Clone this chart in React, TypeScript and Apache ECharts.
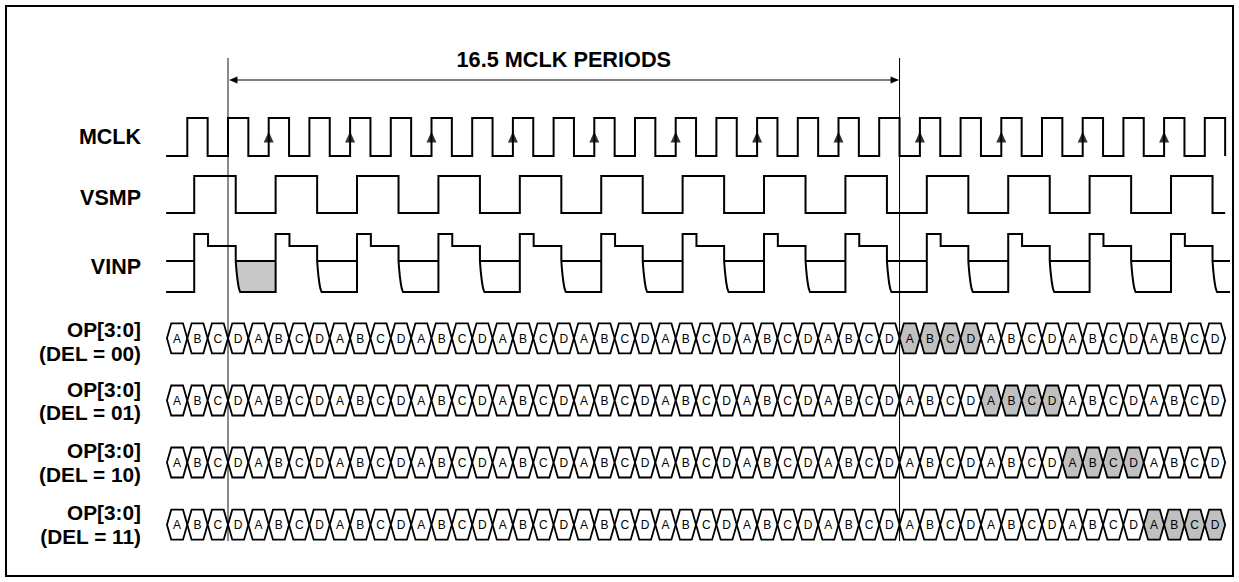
import React, { useEffect, useRef } from 'react';
import * as echarts from 'echarts';

// ---------- data (times in MCLK periods, 0 = left reference line) ----------
const mclkRises = [-1, 0, 1, 2, 3, 4, 5, 6, 7, 8, 9, 10, 11, 12, 13, 14, 15, 16, 17, 18, 19, 20, 21, 22, 23, 24];
const mclkFalls = [-0.5, 0.5, 1.5, 2.5, 3.5, 4.5, 5.5, 6.5, 7.5, 8.5, 9.5, 10.5, 11.5, 12.5, 13.5, 14.5, 15.5, 16.5, 17.5, 18.5, 19.5, 20.5, 21.5, 22.5, 23.5, 24.5];
const mclkArrowEdges = [1, 3, 5, 7, 9, 11, 13, 15, 17, 19, 21, 23];
const vsmpRises = [-0.83, 1.17, 3.17, 5.17, 7.17, 9.17, 11.17, 13.17, 15.17, 17.17, 19.17, 21.17, 23.17];
const vsmpFalls = [0.19, 2.19, 4.19, 6.19, 8.19, 10.19, 12.19, 14.19, 16.19, 18.19, 20.19, 22.19, 24.19];
const traceStart = -1.52;
const vsmpEnd = 24.5;
const vinpEnd = 24.62;
const opCells = 'ABCDABCDABCDABCDABCDABCDABCDABCDABCDABCDABCDABCDABCD'.split('');
const opRowTitle = 'OP[3:0]';
const opRowLabels = ['(DEL = 00)', '(DEL = 01)', '(DEL = 10)', '(DEL = 11)'];
const highlightStart = [36, 40, 44, 48];
const highlightLen = 4;
const spanStart = 0;
const spanEnd = 16.5;
const spanLabel = '16.5 MCLK PERIODS';
const signalNames = ['MCLK', 'VSMP', 'VINP'];

// ---------- layout ----------
const W = 1239, H = 582;
const PX_PER_PERIOD = 40.7;
const ORIGIN_X = 228;
const T_MIN = -ORIGIN_X / PX_PER_PERIOD;
const T_MAX = (W - ORIGIN_X) / PX_PER_PERIOD;
const FONT = '"Liberation Sans", Arial, sans-serif';

const MCLK_H = 118, MCLK_L = 156, ARROW_Y = 137;
const VSMP_H = 176, VSMP_L = 213;
const VINP_TOP = 234, VINP_STEP = 246, VINP_MID = 261, VINP_LOW = 292;
const VINP_TOP_DUR = 0.34;
const OP_ROW_Y = [338.3, 400.5, 462.5, 524.7];
const HEX_HALF = 15;
const HEX_TIP = 4.3;
const LABEL_X = 141;
const SIG_LABEL_Y = [136.5, 197.5, 266.5];
const OP_LABEL_Y = [[329.5, 353.3], [389, 412.8], [450.5, 474.3], [512.5, 536.3]];
const DIM_TOP = 58, DIM_BOTTOM = 541, DIM_ARROW_Y = 80, TITLE_Y = 59;

// discharge curve shape (fraction of period, fraction of mid->low drop)
const curveDt = [0, 0.015, 0.032, 0.054, 0.079, 0.11];
const curveFr = [0, 0.26, 0.48, 0.71, 0.89, 1];
const curve = (f: number) => curveDt.map((d, k) => [f + d, VINP_MID + curveFr[k] * (VINP_LOW - VINP_MID)]);

function buildTraces() {
  const polys: number[][][] = [];
  const m: number[][] = [[traceStart, MCLK_L]];
  mclkRises.forEach((r, i) => {
    m.push([r, MCLK_L], [r, MCLK_H], [mclkFalls[i], MCLK_H], [mclkFalls[i], MCLK_L]);
  });
  polys.push(m);
  const v: number[][] = [[traceStart, VSMP_L]];
  vsmpRises.forEach((r, i) => {
    v.push([r, VSMP_L], [r, VSMP_H], [vsmpFalls[i], VSMP_H], [vsmpFalls[i], VSMP_L]);
  });
  v.push([vsmpEnd, VSMP_L]);
  polys.push(v);
  const p: number[][] = [[traceStart, VINP_LOW]];
  vsmpRises.forEach((r, i) => {
    const f = vsmpFalls[i];
    p.push([r, VINP_LOW], [r, VINP_TOP], [r + VINP_TOP_DUR, VINP_TOP], [r + VINP_TOP_DUR, VINP_STEP], [f, VINP_STEP]);
    curve(f).forEach((c) => p.push(c));
  });
  p.push([vinpEnd, VINP_LOW]);
  polys.push(p);
  polys.push([[traceStart, VINP_MID], [vsmpRises[0], VINP_MID]]);
  vsmpFalls.forEach((f, i) => {
    const next = i + 1 < vsmpRises.length ? vsmpRises[i + 1] : vinpEnd;
    polys.push([[f, VINP_MID], [next, VINP_MID]]);
  });
  return polys;
}

export default function App() {
  const ref = useRef<HTMLDivElement>(null);
  useEffect(() => {
    if (!ref.current) return;
    const chart = echarts.init(ref.current, undefined, { renderer: 'svg', width: W, height: H });
    const traces = buildTraces();
    const fillPoly = [[vsmpFalls[0], VINP_MID], ...curve(vsmpFalls[0]), [vsmpRises[1], VINP_LOW], [vsmpRises[1], VINP_MID]];

    const hexData: number[][] = [];
    OP_ROW_Y.forEach((_, row) => opCells.forEach((_, i) => hexData.push([i, row])));

    const txt = (text: string, x: number, y: number, size: number) => ({
      type: 'text',
      silent: true,
      style: {
        text, x, y, fill: '#000',
        fontSize: size, fontWeight: 'bold', fontFamily: FONT,
        align: 'right', textAlign: 'right', verticalAlign: 'middle', textVerticalAlign: 'middle',
      },
    });

    const graphics: any[] = [
      { type: 'rect', silent: true, shape: { x: 6, y: 6, width: 1227, height: 570 }, style: { fill: 'none', stroke: '#000', lineWidth: 2 } },
    ];
    signalNames.forEach((n, i) => graphics.push(txt(n, LABEL_X, SIG_LABEL_Y[i], 21.5)));
    opRowLabels.forEach((l, i) => {
      graphics.push(txt(opRowTitle, LABEL_X, OP_LABEL_Y[i][0], 20.8));
      graphics.push(txt(l, LABEL_X, OP_LABEL_Y[i][1], 20.8));
    });

    chart.setOption({
      animation: false,
      backgroundColor: '#fff',
      grid: { left: 0, right: 0, top: 0, bottom: 0 },
      xAxis: { type: 'value', min: T_MIN, max: T_MAX, show: false },
      yAxis: { type: 'value', min: 0, max: H, inverse: true, show: false },
      graphic: graphics,
      series: [
        {
          type: 'custom', silent: true, clip: false, z: 1,
          data: [[0]],
          renderItem: (_p: any, api: any) => ({
            type: 'polygon',
            shape: { points: fillPoly.map((q) => api.coord(q)) },
            style: { fill: '#c8c8c8', stroke: 'none' },
          }),
        },
        {
          type: 'custom', silent: true, clip: false, z: 2,
          data: [[0]],
          renderItem: (_p: any, api: any) => {
            const a = api.coord([spanStart, DIM_ARROW_Y]);
            const b = api.coord([spanEnd, DIM_ARROW_Y]);
            return {
              type: 'group',
              children: [
                { type: 'line', shape: { x1: a[0], y1: DIM_TOP, x2: a[0], y2: DIM_BOTTOM }, style: { stroke: '#777', lineWidth: 1.7 } },
                { type: 'line', shape: { x1: b[0], y1: DIM_TOP, x2: b[0], y2: DIM_BOTTOM }, style: { stroke: '#000', lineWidth: 1 } },
                { type: 'line', shape: { x1: a[0] + 4, y1: a[1], x2: b[0] - 4, y2: b[1] }, style: { stroke: '#808080', lineWidth: 2 } },
                { type: 'polygon', shape: { points: [[a[0] + 1, a[1]], [a[0] + 9.5, a[1] - 3.5], [a[0] + 9.5, a[1] + 3.5]] }, style: { fill: '#000' } },
                { type: 'polygon', shape: { points: [[b[0] - 0.5, b[1]], [b[0] - 9, b[1] - 3.5], [b[0] - 9, b[1] + 3.5]] }, style: { fill: '#000' } },
                {
                  type: 'text',
                  style: {
                    text: spanLabel, x: (a[0] + b[0]) / 2, y: TITLE_Y, fill: '#000',
                    fontSize: 21.7, fontWeight: 'bold', fontFamily: FONT,
                    align: 'center', textAlign: 'center', verticalAlign: 'middle', textVerticalAlign: 'middle',
                  },
                },
              ],
            };
          },
        },
        {
          type: 'custom', silent: true, clip: false, z: 3,
          data: traces.map((_, i) => [i]),
          renderItem: (p: any, api: any) => ({
            type: 'polyline',
            shape: { points: traces[p.dataIndex].map((q) => api.coord(q)) },
            style: { stroke: '#000', lineWidth: 2, fill: null, lineJoin: 'miter' },
          }),
        },
        {
          type: 'custom', silent: true, clip: false, z: 3,
          data: hexData,
          renderItem: (_p: any, api: any) => {
            const i = api.value(0);
            const row = api.value(1);
            const y = OP_ROW_Y[row];
            const t0 = 0.5 * (i - 3);
            const x0 = api.coord([t0, y])[0];
            const x1 = api.coord([t0 + 0.5, y])[0];
            const hi = i >= highlightStart[row] && i < highlightStart[row] + highlightLen;
            return {
              type: 'group',
              children: [
                {
                  type: 'polygon',
                  shape: {
                    points: [
                      [x0, y], [x0 + HEX_TIP, y - HEX_HALF], [x1 - HEX_TIP, y - HEX_HALF],
                      [x1, y], [x1 - HEX_TIP, y + HEX_HALF], [x0 + HEX_TIP, y + HEX_HALF],
                    ],
                  },
                  style: { fill: hi ? '#c0c0c0' : '#fff', stroke: '#000', lineWidth: 1.8 },
                },
                {
                  type: 'text',
                  style: {
                    text: opCells[i], x: (x0 + x1) / 2, y: y + 0.5, fill: '#000',
                    fontSize: 12, fontFamily: FONT,
                    align: 'center', textAlign: 'center', verticalAlign: 'middle', textVerticalAlign: 'middle',
                  },
                },
              ],
            };
          },
        },
        {
          type: 'scatter', silent: true, z: 4,
          symbol: 'triangle', symbolSize: [10, 11],
          itemStyle: { color: '#000' },
          data: mclkArrowEdges.map((t) => [t, ARROW_Y]),
        },
      ],
    });
    return () => chart.dispose();
  }, []);
  return <div ref={ref} style={{ position: 'fixed', left: 0, top: 0, width: W, height: H, background: '#fff' }} />;
}
